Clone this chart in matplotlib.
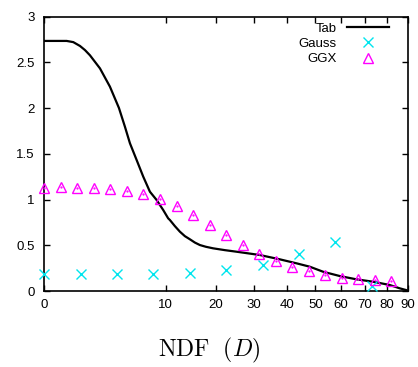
import numpy as np
import matplotlib
matplotlib.use("Agg")
import matplotlib.pyplot as plt

plt.rcParams['font.family'] = ['Liberation Sans', 'DejaVu Sans']
plt.rcParams['mathtext.fontset'] = 'cm'

# Tab curve (angle in degrees, value)
tab_x = [0, 0.34, 0.571, 0.866, 1.125, 1.418, 2.107, 2.93, 3.79, 4.42, 4.99, 5.80,
         6.66, 7.59, 8.58, 9.62, 10.44, 10.73, 11.6, 12.51, 13.45, 14.42, 15.43,
         16.47, 17.76, 19.40, 22.2, 25.15, 31.6, 37.7, 43.3, 47.96, 52.9, 59.4,
         66.3, 73.5, 81.2, 85.9, 89.2, 90]
tab_y = [2.735, 2.735, 2.722, 2.68, 2.635, 2.578, 2.435, 2.235, 2.002, 1.798, 1.616,
         1.433, 1.251, 1.086, 0.996, 0.886, 0.795, 0.777, 0.71, 0.649, 0.60, 0.566,
         0.53, 0.503, 0.484, 0.467, 0.447, 0.430, 0.394, 0.347, 0.303, 0.266, 0.211,
         0.164, 0.128, 0.102, 0.066, 0.030, 0.010, 0.0]

# Gauss samples
gauss_x = [0, 0.9, 3.6, 8.1, 14.4, 22.5, 32.4, 44.1, 57.6, 72.9]
gauss_y = [0.183, 0.183, 0.183, 0.185, 0.20, 0.233, 0.284, 0.40, 0.54, 0.058]

# GGX samples
ggx_x = [0, 0.186, 0.744, 1.67, 2.98, 4.65, 6.69, 9.11, 11.9, 15.06, 18.6, 22.5,
         26.8, 31.4, 36.4, 41.8, 47.6, 53.7, 60.2, 67.1, 74.4, 82.0]
ggx_y = [1.13, 1.135, 1.13, 1.127, 1.116, 1.094, 1.061, 1.007, 0.93, 0.828, 0.722,
         0.613, 0.503, 0.408, 0.325, 0.259, 0.215, 0.175, 0.146, 0.128, 0.12, 0.109]

xticks = [0, 10, 20, 30, 40, 50, 60, 70, 80, 90]
yticks = [0, 0.5, 1, 1.5, 2, 2.5, 3]
ytick_labels = ["0", "0.5", "1", "1.5", "2", "2.5", "3"]

fig = plt.figure(figsize=(4.18, 3.67), dpi=100)
ax = fig.add_axes([0.106, 0.207, 0.870, 0.7475])

ax.set_xscale('function', functions=(lambda x: np.sqrt(np.clip(x, 0, None)),
                                     lambda u: np.asarray(u) ** 2))

ax.plot(tab_x, tab_y, color='black', lw=1.6, label='Tab', zorder=3,
        solid_joinstyle='round')
ax.plot(gauss_x, gauss_y, ls='none', marker='x', color='#00e5ee', ms=7, mew=1.0,
        label='Gauss', clip_on=False, zorder=4)
ax.plot(ggx_x, ggx_y, ls='none', marker='^', mfc='none', mec='#ff00ff', ms=7.5,
        mew=1.0, label='GGX', clip_on=False, zorder=4)
ax.plot(ggx_x, ggx_y, ls='none', marker='.', color='#ff00ff', ms=1.2, clip_on=False, zorder=4)

ax.set_xlim(0, 90)
ax.set_ylim(0, 3)
ax.set_xticks(xticks)
ax.set_xticklabels([str(t) for t in xticks])
ax.set_yticks(yticks)
ax.set_yticklabels(ytick_labels)
ax.tick_params(direction='in', length=4, width=1, top=True, right=True,
               labelsize=9.5)
ax.tick_params(axis='x', pad=6)
ax.tick_params(axis='y', pad=7)
ax.minorticks_off()
for s in ax.spines.values():
    s.set_linewidth(1.2)

handles, labels = ax.get_legend_handles_labels()
leg = ax.legend(handles[:3], labels[:3], loc='upper right', bbox_to_anchor=(0.948, 0.979),
                frameon=False, markerfirst=False, borderpad=0, borderaxespad=0,
                handlelength=3.2, handletextpad=0.8, labelspacing=0.23, fontsize=9.5)

fig.text(0.5, 0.028, r'$\mathrm{NDF}\ \ (D)$', ha='center', va='baseline', fontsize=17)

fig.savefig('out.png', dpi=100)
